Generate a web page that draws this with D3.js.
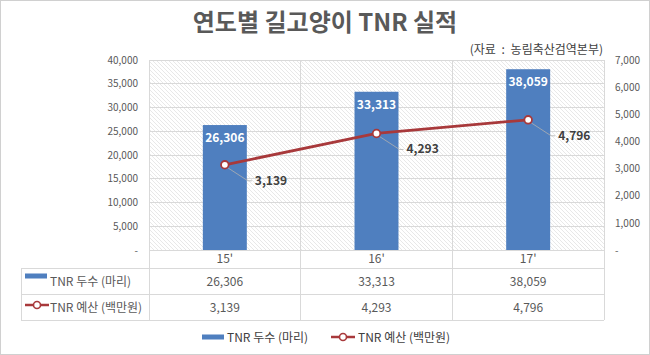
<!DOCTYPE html>
<html><head><meta charset="utf-8">
<script src="https://cdn.jsdelivr.net/npm/d3@7"></script>
<style>
body{margin:0;background:#fff;}
text{font-family:"Noto Sans CJK KR","Noto Sans",sans-serif;}
</style></head>
<body><svg id="c" width="650" height="355"></svg>
<script>
const categories = ["15'", "16'", "17'"];
const countValues = [26306, 33313, 38059];
const budgetValues = [3139, 4293, 4796];
const leftTicks = [0, 5000, 10000, 15000, 20000, 25000, 30000, 35000, 40000];
const rightTicks = [0, 1000, 2000, 3000, 4000, 5000, 6000, 7000];
const seriesNames = ["TNR 두수 (마리)", "TNR 예산 (백만원)"];
const titleText = "연도별 길고양이 TNR 실적";
const sourceText = "(자료 : 농림축산검역본부)";

const barColor = "#4f7fbf", lineColor = "#a8393b", gridColor = "#d9d9d9", textColor = "#595959";
const svg = d3.select("#c");
const L = 149, R = 604, T = 60, B = 250;

svg.append("rect").attr("x",0.5).attr("y",0.5).attr("width",649).attr("height",354)
  .attr("fill","#fff").attr("stroke","#d0d0d0");

const defs = svg.append("defs");
const pat = defs.append("pattern").attr("id","hatch").attr("patternUnits","userSpaceOnUse")
  .attr("width",4).attr("height",4);
pat.append("rect").attr("width",4).attr("height",4).attr("fill","#fff");
pat.append("path").attr("d","M-1,-1 L5,5 M-1,3 L1,5 M3,-1 L5,1").attr("stroke","#e2e2e2").attr("stroke-width",0.8);

svg.append("rect").attr("x",L).attr("y",T).attr("width",R-L).attr("height",B-T).attr("fill","url(#hatch)");

const x = d3.scaleBand().domain(categories).range([L,R]).paddingInner(0).paddingOuter(0);
const yL = d3.scaleLinear().domain([0,40000]).range([B,T]);
const yR = d3.scaleLinear().domain([0,7000]).range([B,T]);
const fmt = d => d === 0 ? "-" : d3.format(",")(d);

svg.append("g").selectAll("line").data(leftTicks).join("line")
  .attr("x1",L).attr("x2",R).attr("y1",d=>yL(d)).attr("y2",d=>yL(d))
  .attr("stroke",gridColor).attr("stroke-width",1).attr("shape-rendering","crispEdges");
const bounds = categories.map(c=>x(c)).concat([R]);
svg.append("g").selectAll("line").data(bounds).join("line")
  .attr("x1",d=>d).attr("x2",d=>d).attr("y1",T).attr("y2",320)
  .attr("stroke",gridColor).attr("shape-rendering","crispEdges");

const axL = svg.append("g").attr("transform",`translate(${L},0)`)
  .call(d3.axisLeft(yL).tickValues(leftTicks).tickFormat(fmt).tickSize(0).tickPadding(11));
axL.select(".domain").remove();
axL.selectAll("text").attr("fill",textColor).style("font-size","10px");
const axR = svg.append("g").attr("transform",`translate(${R},0)`)
  .call(d3.axisRight(yR).tickValues(rightTicks).tickFormat(fmt).tickSize(0).tickPadding(11));
axR.select(".domain").remove();
axR.selectAll("text").attr("fill",textColor).style("font-size","10px");

const bw = x.bandwidth()*0.29;
svg.append("g").selectAll("rect").data(countValues).join("rect")
  .attr("x",(d,i)=>x(categories[i])+(x.bandwidth()-bw)/2).attr("width",bw)
  .attr("y",d=>yL(d)).attr("height",d=>B-yL(d)).attr("fill",barColor);
svg.append("g").selectAll("text").data(countValues).join("text")
  .attr("x",(d,i)=>x(categories[i])+x.bandwidth()/2).attr("y",d=>yL(d)+17)
  .attr("text-anchor","middle").attr("fill","#fff").style("font-size","12px").style("font-weight","bold")
  .text(d=>d3.format(",")(d));

const cx = i => x(categories[i])+x.bandwidth()/2;
const line = d3.line().x((d,i)=>cx(i)).y(d=>yR(d));
svg.append("path").datum(budgetValues).attr("d",line).attr("fill","none")
  .attr("stroke",lineColor).attr("stroke-width",2.8);
svg.append("g").selectAll("path").data(budgetValues).join("path")
  .attr("d",(d,i)=>{const a=cx(i), b=yR(d); return `M${a+3},${b+3} L${a+23},${b+16} L${a+27},${b+16}`;})
  .attr("fill","none").attr("stroke","#b0b0b0").attr("stroke-width",0.8);
svg.append("g").selectAll("circle").data(budgetValues).join("circle")
  .attr("cx",(d,i)=>cx(i)).attr("cy",d=>yR(d)).attr("r",3.8)
  .attr("fill","#fff").attr("stroke",lineColor).attr("stroke-width",1.8);
svg.append("g").selectAll("text").data(budgetValues).join("text")
  .attr("x",(d,i)=>cx(i)+30).attr("y",d=>yR(d)+20)
  .attr("fill","#404040").style("font-size","12px").style("font-weight","bold")
  .text(d=>d3.format(",")(d));

svg.append("text").attr("x",325).attr("y",31).attr("text-anchor","middle")
  .attr("fill",textColor).style("font-size","24px").style("font-weight","bold").text(titleText);
svg.append("text").attr("x",603).attr("y",54).attr("text-anchor","end")
  .attr("fill","#404040").style("font-size","12px").style("word-spacing","3px").text(sourceText);

const rowsY = [250, 268, 294, 320];
const tbl = svg.append("g");
tbl.selectAll("line.h").data(rowsY.slice(1)).join("line")
  .attr("x1",21).attr("x2",R).attr("y1",d=>d).attr("y2",d=>d)
  .attr("stroke",gridColor).attr("shape-rendering","crispEdges");
tbl.append("line").attr("x1",21).attr("x2",21).attr("y1",268).attr("y2",320)
  .attr("stroke",gridColor).attr("shape-rendering","crispEdges");
tbl.selectAll("text.cat").data(categories).join("text")
  .attr("x",d=>x(d)+x.bandwidth()/2).attr("y",263).attr("text-anchor","middle")
  .attr("fill",textColor).style("font-size","12px").text(d=>d);
[countValues, budgetValues].forEach((vals,r)=>{
  tbl.append("g").selectAll("text").data(vals).join("text")
    .attr("x",(d,i)=>cx(i)).attr("y",(rowsY[r+1]+rowsY[r+2])/2+4.5).attr("text-anchor","middle")
    .attr("fill",textColor).style("font-size","12px").text(d=>d3.format(",")(d));
});

function legendKey(g, type, x0, yc){
  if(type===0){
    g.append("rect").attr("x",x0).attr("y",yc-2.5).attr("width",22).attr("height",5).attr("fill",barColor);
  } else {
    g.append("line").attr("x1",x0).attr("x2",x0+24).attr("y1",yc).attr("y2",yc)
      .attr("stroke",lineColor).attr("stroke-width",2.5);
    g.append("circle").attr("cx",x0+12).attr("cy",yc).attr("r",3.5)
      .attr("fill","#fff").attr("stroke",lineColor).attr("stroke-width",1.6);
  }
}
seriesNames.forEach((n,r)=>{
  const yc = (rowsY[r+1]+rowsY[r+2])/2;
  legendKey(tbl, r, 25, yc - (r===0?5:2));
  tbl.append("text").attr("x",50).attr("y",yc+4.5).attr("fill",textColor)
    .style("font-size","12px").text(n);
});

const lg = svg.append("g");
const legX = [202, 331];
seriesNames.forEach((n,r)=>{
  legendKey(lg, r, legX[r], 337);
  lg.append("text").attr("x",legX[r]+(r===0?25:27)).attr("y",341.5).attr("fill","#404040")
    .style("font-size","12px").text(n);
});
</script></body></html>
